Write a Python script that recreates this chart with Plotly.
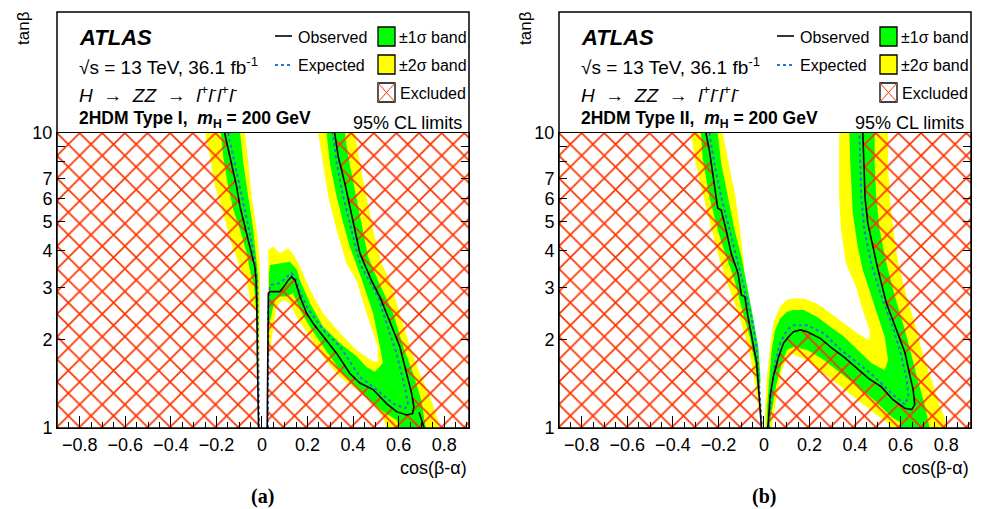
import plotly.graph_objects as go

W, H = 981, 509

# ======================= DATA (cos(beta-alpha), tan(beta)) =======================
# ---------- Type I ----------
t1_obs_arm_cos = [-0.164, -0.140, -0.111, -0.096, -0.075, -0.045, -0.031, -0.026, -0.023, -0.020, -0.016, -0.015]
t1_obs_arm_tan = [10, 8.29, 6.56, 5.61, 4.80, 3.92, 3.51, 3.17, 2.72, 1.70, 1.06, 1.0]
t1_obs_u_cos = [0.023, 0.024, 0.028, 0.028, 0.035, 0.079, 0.101, 0.115, 0.130, 0.145, 0.167, 0.196, 0.225, 0.269,
                0.328, 0.386, 0.430, 0.488, 0.547, 0.591, 0.635, 0.661, 0.667, 0.657, 0.635, 0.605, 0.576, 0.547,
                0.518, 0.480, 0.430, 0.408, 0.386, 0.364, 0.335, 0.319]
t1_obs_u_tan = [1.0, 1.5, 2.45, 2.86, 2.90, 2.90, 3.05, 3.17, 3.26, 3.17, 2.79, 2.45, 2.26, 2.04,
                1.79, 1.53, 1.42, 1.35, 1.21, 1.136, 1.107, 1.12, 1.18, 1.31, 1.53, 1.89, 2.15, 2.45,
                2.78, 3.17, 3.91, 4.69, 5.62, 6.74, 8.31, 10]
t1_obs_frag_cos = [0.690, 0.700, 0.712]
t1_obs_frag_tan = [1.13, 1.06, 1.0]
t1_exp_arm_cos = [-0.149, -0.123, -0.092, -0.061, -0.035, -0.022, -0.0175, -0.013]
t1_exp_arm_tan = [10, 8.10, 6.41, 4.88, 3.86, 3.17, 2.15, 1.0]
t1_exp_u_cos = [0.026, 0.028, 0.035, 0.079, 0.110, 0.130, 0.152, 0.158, 0.196, 0.269, 0.342, 0.430, 0.503,
                0.576, 0.627, 0.642, 0.627, 0.591, 0.547, 0.510, 0.469, 0.430, 0.393, 0.357, 0.328, 0.310]
t1_exp_u_tan = [1.0, 2.5, 3.05, 3.10, 3.26, 3.34, 3.17, 3.0, 2.58, 2.15, 1.89, 1.49, 1.35,
                1.21, 1.166, 1.197, 1.38, 1.79, 2.26, 2.78, 3.17, 3.61, 4.69, 6.07, 7.91, 10]
t1_g1_cos = [-0.181, -0.170, -0.148, -0.126, -0.096, -0.067, -0.053, -0.035, -0.026, -0.020,
             -0.016, -0.016, -0.023, -0.038, -0.060, -0.082, -0.096]
t1_g1_tan = [10, 8.29, 6.56, 5.49, 4.69, 3.92, 3.43, 3.05, 2.51, 1.99,
             1.99, 3.17, 3.62, 4.69, 6.07, 7.91, 10]
t1_y1_cos = [-0.250, -0.228, -0.206, -0.170, -0.140, -0.096, -0.067, -0.053, -0.023, -0.020, -0.018,
             -0.013, -0.009, -0.009, -0.023, -0.045, -0.060, -0.075]
t1_y1_tan = [10, 8.29, 6.56, 5.36, 4.34, 3.51, 3.17, 2.72, 2.45, 2.07, 1.45,
             1.45, 2.72, 3.62, 4.69, 6.07, 7.91, 10]
t1_g2_cos = [0.029, 0.029, 0.031, 0.035, 0.079, 0.123, 0.154, 0.167, 0.211, 0.268, 0.342, 0.415, 0.459, 0.496,
             0.531, 0.518, 0.488, 0.439, 0.386, 0.357, 0.328, 0.298, 0.284,
             0.364, 0.379, 0.408, 0.437, 0.466, 0.509, 0.576, 0.620, 0.664, 0.700, 0.715, 0.719,
             0.605, 0.591, 0.532, 0.474, 0.415, 0.342, 0.269, 0.211, 0.167, 0.137, 0.108, 0.079, 0.057, 0.043, 0.031]
t1_g2_tan = [2.23, 2.72, 3.30, 3.57, 3.62, 3.66, 3.43, 3.17, 2.65, 2.21, 1.94, 1.75, 1.61, 1.55,
             1.66, 1.89, 2.45, 3.17, 4.11, 4.94, 6.08, 7.89, 10,
             10, 8.3, 6.4, 4.94, 3.81, 3.17, 2.45, 1.89, 1.53, 1.24, 1.064, 1.0,
             1.0, 1.064, 1.136, 1.24, 1.38, 1.57, 1.89, 2.20, 2.51, 2.86, 2.79, 2.79, 2.72, 2.45, 2.23]
t1_y2_cos = [0.026, 0.028, 0.050, 0.079, 0.115, 0.145, 0.167, 0.193, 0.211, 0.268, 0.342, 0.415, 0.488, 0.509,
             0.509, 0.459, 0.415, 0.371, 0.328, 0.291, 0.269, 0.247,
             0.408, 0.430, 0.459, 0.488, 0.525, 0.561, 0.605, 0.649, 0.693, 0.737, 0.772, 0.781,
             0.547, 0.532, 0.488, 0.415, 0.342, 0.269, 0.211, 0.152, 0.123, 0.092, 0.064, 0.050, 0.035]
t1_y2_tan = [1.84, 4.01, 4.12, 3.91, 4.07, 3.81, 3.52, 3.17, 2.94, 2.45, 2.10, 1.84, 1.68, 1.68,
             1.88, 2.45, 3.17, 3.61, 4.69, 6.08, 7.89, 10,
             10, 7.89, 6.08, 4.69, 3.61, 3.17, 2.45, 1.89, 1.53, 1.28, 1.064, 1.0,
             1.0, 1.09, 1.21, 1.35, 1.49, 1.74, 2.04, 2.38, 2.65, 2.72, 2.58, 2.15, 1.84]

# ---------- Type II ----------
t2_obs_arm_cos = [-0.255, -0.240, -0.225, -0.203, -0.188, -0.166, -0.144, -0.114, -0.099, -0.084, -0.070,
                  -0.048, -0.032, -0.021, -0.013, -0.011]
t2_obs_arm_tan = [10, 8.76, 7.30, 5.56, 5.48, 4.69, 3.91, 3.35, 2.82, 2.79, 2.38, 1.94, 1.66, 1.28, 1.064, 1.0]
t2_obs_u_cos = [0.016, 0.019, 0.027, 0.041, 0.064, 0.086, 0.108, 0.130, 0.160, 0.190, 0.249, 0.300, 0.352,
                0.412, 0.460, 0.516, 0.565, 0.619, 0.649, 0.662, 0.655, 0.641, 0.619, 0.582, 0.560, 0.538,
                0.501, 0.479, 0.456, 0.444, 0.439, 0.434]
t2_obs_u_tan = [1.0, 1.04, 1.28, 1.49, 1.74, 1.94, 2.04, 2.12, 2.15, 2.12, 2.01, 1.86, 1.74,
                1.59, 1.47, 1.38, 1.25, 1.166, 1.155, 1.20, 1.35, 1.50, 1.80, 2.15, 2.4, 2.64,
                3.43, 4.11, 4.94, 6.0, 8.0, 10]
t2_exp_arm_cos = [-0.240, -0.218, -0.188, -0.151, -0.114, -0.084, -0.055, -0.032, -0.018, -0.010, -0.009]
t2_exp_arm_tan = [10, 7.89, 6.08, 4.69, 3.61, 2.94, 2.38, 1.88, 1.28, 1.04, 1.0]
t2_exp_u_cos = [0.022, 0.024, 0.034, 0.049, 0.071, 0.101, 0.130, 0.190, 0.264, 0.338, 0.412, 0.486, 0.560,
                0.619, 0.634, 0.627, 0.597, 0.560, 0.516, 0.471, 0.441, 0.427, 0.419]
t2_exp_u_tan = [1.0, 1.09, 1.38, 1.66, 1.94, 2.15, 2.23, 2.23, 2.09, 1.84, 1.66, 1.49, 1.31,
                1.20, 1.28, 1.45, 1.84, 2.26, 2.79, 3.61, 4.69, 6.08, 10]
t2_g1_cos = [-0.277, -0.270, -0.240, -0.203, -0.166, -0.129, -0.092, -0.062, -0.040, -0.025,
             -0.015, -0.025, -0.048, -0.070, -0.099, -0.129, -0.159, -0.188, -0.203]
t2_g1_tan = [10, 8.30, 6.08, 4.69, 3.81, 3.17, 2.45, 2.04, 1.66, 1.28,
             1.45, 1.88, 2.38, 2.94, 3.81, 4.69, 6.08, 7.89, 10]
t2_y1_cos = [-0.321, -0.299, -0.277, -0.232, -0.203, -0.166, -0.107, -0.070, -0.048, -0.032, -0.022,
             -0.018, -0.018, -0.040, -0.080, -0.080, -0.088, -0.105, -0.125, -0.155, -0.181]
t2_y1_tan = [10, 7.89, 6.58, 4.81, 3.91, 3.17, 2.38, 1.88, 1.57, 1.28, 1.12,
             1.12, 1.66, 2.15, 2.5, 2.79, 3.61, 4.69, 6.08, 7.89, 10]
t2_g2_cos = [0.012, 0.012, 0.015, 0.024, 0.034, 0.049, 0.071, 0.101, 0.130, 0.175, 0.234, 0.293, 0.352,
             0.412, 0.471, 0.530, 0.545, 0.530, 0.501, 0.471, 0.434, 0.412, 0.390, 0.379, 0.375,
             0.486, 0.486, 0.493, 0.508, 0.538, 0.575, 0.619, 0.649, 0.679, 0.708, 0.723, 0.727,
             0.600, 0.604, 0.560, 0.486, 0.412, 0.338, 0.264, 0.190, 0.130, 0.101, 0.079, 0.056, 0.041, 0.027, 0.026]
t2_g2_tan = [1.0, 1.064, 1.21, 1.49, 1.84, 2.15, 2.35, 2.48, 2.51, 2.51, 2.38, 2.20, 2.04,
             1.84, 1.66, 1.57, 1.70, 2.04, 2.38, 2.79, 3.43, 4.11, 5.34, 7.89, 10,
             10, 7.89, 6.08, 4.69, 3.61, 2.79, 2.15, 1.74, 1.42, 1.18, 1.04, 1.0,
             1.0, 1.04, 1.09, 1.24, 1.38, 1.53, 1.70, 1.84, 1.88, 1.84, 1.66, 1.42, 1.21, 1.064, 1.0]
t2_y2_cos = [0.004, 0.004, 0.012, 0.027, 0.041, 0.071, 0.101, 0.130, 0.175, 0.234, 0.293, 0.352, 0.412,
             0.456, 0.464, 0.464, 0.434, 0.404, 0.360, 0.338, 0.330, 0.330,
             0.545, 0.545, 0.552, 0.568, 0.590, 0.627, 0.671, 0.701, 0.738, 0.775, 0.797, 0.800,
             0.550, 0.545, 0.486, 0.412, 0.338, 0.264, 0.190, 0.116, 0.101, 0.079, 0.056, 0.041, 0.034]
t2_y2_tan = [1.0, 1.12, 1.45, 1.88, 2.26, 2.58, 2.72, 2.75, 2.75, 2.64, 2.45, 2.26, 2.09,
             1.99, 2.0, 2.15, 2.51, 3.01, 3.61, 4.69, 6.08, 10,
             10, 7.89, 6.08, 4.69, 3.61, 2.79, 2.15, 1.74, 1.42, 1.18, 1.064, 1.0,
             1.0, 1.04, 1.12, 1.24, 1.38, 1.53, 1.70, 1.79, 1.74, 1.57, 1.28, 1.09, 1.0]

x_tick_step = 0.2
y_tick_vals = [1, 2, 3, 4, 5, 6, 7, 8, 9, 10]
y_tick_text = ["1", "2", "3", "4", "5", "6", "7", "", "", "10"]
X_MIN, X_MAX = -0.9, 0.909
T_MIN, T_MAX = 1.0, 10.0

# ======================= STYLE =======================
GREEN = "#00ff00"
YELLOW = "#ffff00"
HATCH = "#ff3300"
BLUE = "#2d72d9"
FONT = "Liberation Sans"

panels = [
    dict(name="Type I", letter="(a)", x0=57, x1=469,
         obs=[(t1_obs_arm_cos, t1_obs_arm_tan), (t1_obs_u_cos, t1_obs_u_tan), (t1_obs_frag_cos, t1_obs_frag_tan)],
         exp=[(t1_exp_arm_cos, t1_exp_arm_tan), (t1_exp_u_cos, t1_exp_u_tan)],
         green=[(t1_g1_cos, t1_g1_tan), (t1_g2_cos, t1_g2_tan)],
         yellow=[(t1_y1_cos, t1_y1_tan), (t1_y2_cos, t1_y2_tan)],
         arm=(t1_obs_arm_cos, t1_obs_arm_tan), u=(t1_obs_u_cos, t1_obs_u_tan)),
    dict(name="Type II", letter="(b)", x0=559, x1=971,
         obs=[(t2_obs_arm_cos, t2_obs_arm_tan), (t2_obs_u_cos, t2_obs_u_tan)],
         exp=[(t2_exp_arm_cos, t2_exp_arm_tan), (t2_exp_u_cos, t2_exp_u_tan)],
         green=[(t2_g1_cos, t2_g1_tan), (t2_g2_cos, t2_g2_tan)],
         yellow=[(t2_y1_cos, t2_y1_tan), (t2_y2_cos, t2_y2_tan)],
         arm=(t2_obs_arm_cos, t2_obs_arm_tan), u=(t2_obs_u_cos, t2_obs_u_tan)),
]

PLOT_TOP, PLOT_BOT, FRAME_TOP = 133, 428, 12


def px(x):
    return x / W


def py(y):
    return 1 - y / H


fig = go.Figure()
annotations = []
shapes = []

for i, p in enumerate(panels):
    xa = "x" if i == 0 else "x2"
    ya = "y" if i == 0 else "y2"
    dx = p["x0"] - 57
    common = dict(xaxis=xa, yaxis=ya, showlegend=False, hoverinfo="skip", mode="lines")
    for cx, ty in p["yellow"]:
        fig.add_trace(go.Scatter(x=cx, y=ty, fill="toself", fillcolor=YELLOW, line=dict(width=0), **common))
    for cx, ty in p["green"]:
        fig.add_trace(go.Scatter(x=cx, y=ty, fill="toself", fillcolor=GREEN, line=dict(width=0), **common))
    # excluded regions (hatched)
    ac, at = p["arm"]
    uc, ut = p["u"]
    ex_regions = [
        ([X_MIN - 0.05, X_MIN - 0.05] + ac, [T_MIN, T_MAX] + at),
        (uc + [X_MAX + 0.05, X_MAX + 0.05], ut + [T_MAX, T_MIN]),
    ]
    for cx, ty in ex_regions:
        fig.add_trace(go.Scatter(
            x=cx, y=ty, fill="toself", fillcolor="rgba(0,0,0,0)",
            fillpattern=dict(shape="x", size=16, solidity=0.2, fgcolor=HATCH,
                             bgcolor="rgba(0,0,0,0)", fillmode="replace"),
            line=dict(width=0), **common))
    for cx, ty in p["exp"]:
        fig.add_trace(go.Scatter(x=cx, y=ty, line=dict(color=BLUE, width=2, dash="dot"), **common))
    for cx, ty in p["obs"]:
        fig.add_trace(go.Scatter(x=cx, y=ty, line=dict(color="black", width=1.6), **common))

    # frame
    shapes.append(dict(type="rect", xref="paper", yref="paper", x0=px(p["x0"]), x1=px(p["x1"]),
                       y0=py(PLOT_BOT), y1=py(FRAME_TOP), line=dict(color="black", width=1.5)))
    # legend samples
    shapes.append(dict(type="line", xref="paper", yref="paper", x0=px(275 + dx), x1=px(292 + dx),
                       y0=py(36), y1=py(36), line=dict(color="black", width=1.6)))
    shapes.append(dict(type="line", xref="paper", yref="paper", x0=px(275 + dx), x1=px(292 + dx),
                       y0=py(65), y1=py(65), line=dict(color=BLUE, width=2, dash="dot")))
    for (yt, yb, col) in [(27, 46, GREEN), (55, 74, YELLOW), (83, 102, "white")]:
        shapes.append(dict(type="rect", xref="paper", yref="paper", x0=px(378 + dx), x1=px(395 + dx),
                           y0=py(yb), y1=py(yt), fillcolor=col, line=dict(color="black", width=1.3)))
    shapes.append(dict(type="line", xref="paper", yref="paper", x0=px(378 + dx), x1=px(395 + dx),
                       y0=py(102), y1=py(83), line=dict(color=HATCH, width=1)))
    shapes.append(dict(type="line", xref="paper", yref="paper", x0=px(378 + dx), x1=px(395 + dx),
                       y0=py(83), y1=py(102), line=dict(color=HATCH, width=1)))

    def ann(text, x, y, xanchor="left", size=18, family=FONT, angle=0):
        annotations.append(dict(text=text, x=px(x), y=py(y), xref="paper", yref="paper",
                                xanchor=xanchor, yanchor="middle", showarrow=False, textangle=angle,
                                font=dict(family=family, size=size, color="black")))

    ann("tanβ", 24 + dx, 28, xanchor="center", size=17, angle=-90)
    ann("<b><i>ATLAS</i></b>", 77 + dx, 38, size=22)
    ann("√s = 13 TeV, 36.1 fb<sup>-1</sup>", 77 + dx, 66, size=19)
    ann("<i>H</i>  →  <i>ZZ</i>  →  <i>l</i><sup>+</sup><i>l</i><sup>-</sup><i>l</i><sup>+</sup><i>l</i><sup>-</sup>",
        77 + dx, 94, size=19)
    ann("<b>2HDM %s,  <i>m</i><sub>H</sub> = 200 GeV</b>" % p["name"], 77 + dx, 119, size=17.5)
    ann("95% CL limits", 464 + dx, 123, xanchor="right", size=18)
    ann("Observed", 296 + dx, 37, size=16)
    ann("Expected", 296 + dx, 66, size=16)
    ann("±1σ band", 397 + dx, 37, size=16)
    ann("±2σ band", 397 + dx, 66, size=16)
    ann("Excluded", 398 + dx, 94, size=16)
    ann("cos(β-α)", p["x1"], 468, xanchor="right", size=18)
    ann("<b>%s</b>" % p["letter"], 262 + dx, 496, xanchor="center", size=20, family="Liberation Serif")

axis_x = dict(range=[X_MIN, X_MAX], tickmode="linear", tick0=0, dtick=x_tick_step, ticks="inside",
              ticklen=12, tickcolor="black", tickwidth=1, showgrid=False, zeroline=False, automargin=False,
              showline=True, linecolor="black", linewidth=1, mirror=True,
              tickfont=dict(family=FONT, size=18, color="black"),
              minor=dict(dtick=0.05, tick0=0, ticks="inside", ticklen=6, tickcolor="black", showgrid=False))
axis_y = dict(type="log", range=[0, 1], tickmode="array", tickvals=y_tick_vals, ticktext=y_tick_text,
              ticks="inside", ticklen=8, tickcolor="black", showgrid=False, zeroline=False, automargin=False,
              showline=True, linecolor="black", linewidth=1, mirror="ticks",
              tickfont=dict(family=FONT, size=18, color="black"))

ydom = [py(PLOT_BOT), py(PLOT_TOP)]
fig.update_layout(
    template="none",
    width=W, height=H, margin=dict(l=0, r=0, t=0, b=0, pad=0), autosize=False,
    paper_bgcolor="white", plot_bgcolor="white",
    xaxis=dict(axis_x, domain=[px(panels[0]["x0"]), px(panels[0]["x1"])], anchor="y"),
    yaxis=dict(axis_y, domain=ydom, anchor="x"),
    xaxis2=dict(axis_x, domain=[px(panels[1]["x0"]), px(panels[1]["x1"])], anchor="y2"),
    yaxis2=dict(axis_y, domain=ydom, anchor="x2"),
    annotations=annotations, shapes=shapes,
)

fig.write_html("out.html", config={"displayModeBar": False},
               post_script="document.body.style.margin='0px';document.body.style.overflow='hidden';")
